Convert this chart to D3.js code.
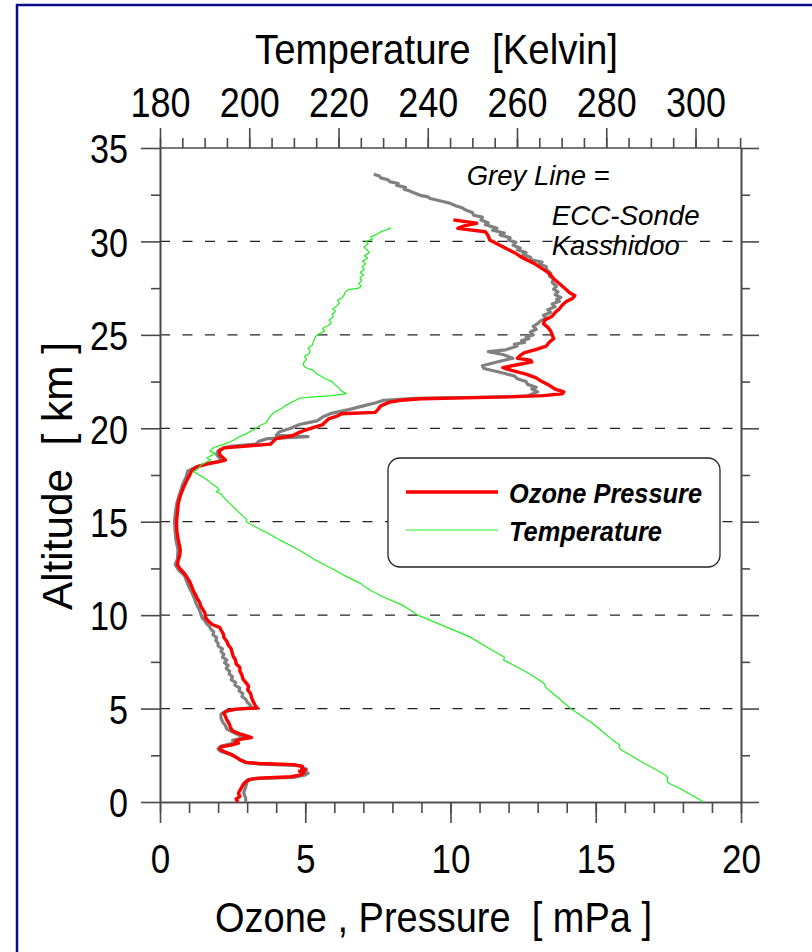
<!DOCTYPE html>
<html>
<head>
<meta charset="utf-8">
<script src="https://cdn.jsdelivr.net/npm/d3@7"></script>
<style>
  html,body{margin:0;padding:0;background:#fff;}
  svg{display:block;}
  text{white-space:pre;}
</style>
</head>
<body>
<div id="chart"></div>
<script>
// ---------------- DATA ----------------
// Ozone partial pressure profile (red)  [altitude km, mPa]
const ozoneProfile = [
[0.0,2.68],[0.15,2.62],[0.3,2.75],[0.45,2.7],[0.6,2.74],[0.75,2.8],[0.9,2.85],[1.05,2.93],[1.2,3.05],[1.28,3.4],[1.35,4.5],[1.45,4.85],[1.55,4.95],[1.65,4.8],[1.72,5.0],[1.8,4.88],[1.9,4.9],[2.0,4.6],[2.06,3.4],[2.12,2.95],[2.25,2.75],[2.4,2.62],[2.55,2.45],[2.7,2.2],[2.82,2.05],[2.95,2.1],[3.05,2.45],[3.15,2.7],[3.25,2.6],[3.35,2.75],[3.45,3.15],[3.55,2.95],[3.65,2.75],[3.8,2.5],[4.0,2.42],[4.2,2.38],[4.4,2.3],[4.6,2.25],[4.75,2.2],[4.88,2.3],[4.97,2.6],[5.03,3.35],[5.1,3.3],[5.25,3.25],[5.4,3.2],[5.6,3.15],[5.8,3.12],[6.0,3.02],[6.2,3.05],[6.4,2.95],[6.6,2.85],[6.8,2.82],[7.0,2.75],[7.2,2.75],[7.4,2.62],[7.6,2.6],[7.8,2.52],[8.0,2.48],[8.2,2.45],[8.4,2.35],[8.6,2.3],[8.8,2.2],[9.0,2.18],[9.2,2.1],[9.35,2.05],[9.5,1.8],[9.7,1.65],[9.9,1.56],[10.1,1.55],[10.3,1.48],[10.5,1.4],[10.7,1.36],[10.9,1.28],[11.1,1.22],[11.3,1.15],[11.5,1.1],[11.7,1.05],[11.9,0.98],[12.1,0.9],[12.3,0.8],[12.5,0.68],[12.7,0.6],[12.9,0.62],[13.2,0.68],[13.5,0.7],[13.8,0.66],[14.1,0.62],[14.5,0.58],[15.0,0.57],[15.5,0.6],[16.0,0.63],[16.4,0.7],[16.8,0.8],[17.2,0.92],[17.5,1.02],[17.75,1.1],[17.95,1.28],[18.1,1.65],[18.2,2.0],[18.3,2.25],[18.45,2.15],[18.6,2.05],[18.8,2.05],[18.95,2.2],[19.05,3.0],[19.15,3.8],[19.3,3.9],[19.45,4.0],[19.6,4.55],[19.75,4.75],[19.9,5.0],[20.05,5.3],[20.2,5.6],[20.35,5.7],[20.5,5.8],[20.65,6.1],[20.78,6.25],[20.85,7.4],[21.0,7.5],[21.2,7.6],[21.4,7.9],[21.5,8.3],[21.58,9.0],[21.63,10.5],[21.68,12.0],[21.75,13.2],[21.85,13.85],[21.95,13.9],[22.1,13.6],[22.3,13.4],[22.5,13.15],[22.7,12.95],[22.9,12.6],[23.1,12.1],[23.25,11.8],[23.4,12.3],[23.55,12.8],[23.65,12.75],[23.75,12.3],[23.9,12.4],[24.05,12.55],[24.2,12.9],[24.4,13.3],[24.6,13.4],[24.8,13.55],[25.0,13.5],[25.2,13.45],[25.4,13.35],[25.6,13.2],[25.8,13.25],[26.0,13.5],[26.2,13.6],[26.4,13.75],[26.6,13.85],[26.8,14.0],[26.95,14.2],[27.1,14.28],[27.25,14.1],[27.4,14.0],[27.6,13.85],[27.8,13.7],[28.0,13.55],[28.2,13.45],[28.4,13.3],[28.6,13.1],[28.8,12.9],[29.0,12.65],[29.2,12.4],[29.4,12.2],[29.6,11.95],[29.8,11.7],[30.08,11.35],[30.3,11.3],[30.52,11.2],[30.7,10.25],[30.85,10.5],[30.97,10.9],[31.15,10.1]
];
// ECC-Sonde profile (grey)  [altitude km, mPa]
const sondeProfile = [
[0.0,2.95],[0.2,2.95],[0.5,2.88],[0.8,2.95],[1.1,3.0],[1.25,3.2],[1.32,4.6],[1.45,5.0],[1.55,5.1],[1.65,4.85],[1.75,5.05],[1.85,4.9],[1.95,4.85],[2.03,3.5],[2.1,3.0],[2.25,2.8],[2.4,2.6],[2.55,2.4],[2.7,2.1],[2.85,2.0],[3.0,2.1],[3.1,2.4],[3.2,2.6],[3.3,2.5],[3.45,2.9],[3.55,2.75],[3.7,2.55],[3.9,2.3],[4.1,2.25],[4.3,2.15],[4.5,2.1],[4.7,2.1],[4.85,2.25],[4.95,2.6],[5.05,3.15],[5.2,3.1],[5.35,3.0],[5.5,2.95],[5.65,2.82],[5.8,2.85],[5.95,2.72],[6.1,2.75],[6.25,2.58],[6.4,2.6],[6.55,2.45],[6.7,2.5],[6.85,2.38],[7.0,2.4],[7.15,2.28],[7.3,2.35],[7.45,2.22],[7.6,2.3],[7.75,2.15],[7.9,2.2],[8.05,2.1],[8.2,2.15],[8.35,2.0],[8.5,2.0],[8.65,1.92],[8.8,1.95],[8.95,1.82],[9.1,1.85],[9.25,1.75],[9.4,1.7],[9.55,1.6],[9.7,1.55],[9.85,1.45],[10.0,1.42],[10.3,1.35],[10.6,1.25],[10.9,1.18],[11.2,1.1],[11.5,1.0],[11.8,0.92],[12.1,0.85],[12.4,0.65],[12.7,0.52],[13.0,0.6],[13.5,0.62],[14.0,0.55],[14.5,0.52],[15.0,0.5],[15.5,0.53],[16.0,0.58],[16.5,0.68],[17.0,0.78],[17.4,0.9],[17.7,0.95],[17.9,1.2],[18.1,1.6],[18.25,2.1],[18.4,2.05],[18.6,1.95],[18.8,2.0],[18.95,2.2],[19.05,2.5],[19.15,3.3],[19.3,3.4],[19.45,3.7],[19.55,5.1],[19.62,4.0],[19.8,4.1],[20.0,4.5],[20.2,4.8],[20.4,5.4],[20.6,5.6],[20.8,5.9],[21.0,6.5],[21.2,7.0],[21.35,7.4],[21.5,7.7],[21.6,8.8],[21.66,11.0],[21.72,12.6],[21.8,12.75],[21.95,13.0],[22.1,12.8],[22.2,12.95],[22.35,12.65],[22.5,12.6],[22.65,12.3],[22.8,12.2],[23.0,11.7],[23.2,11.15],[23.35,11.1],[23.55,11.6],[23.75,12.15],[23.95,11.8],[24.1,11.3],[24.2,11.9],[24.4,12.3],[24.5,12.2],[24.6,12.55],[24.7,12.45],[24.8,12.7],[24.9,12.6],[25.0,12.85],[25.15,12.75],[25.3,12.95],[25.45,12.85],[25.6,13.0],[25.75,13.1],[25.9,13.3],[26.05,13.2],[26.2,13.45],[26.35,13.35],[26.5,13.6],[26.65,13.5],[26.8,13.75],[26.9,13.65],[27.0,13.8],[27.15,13.6],[27.3,13.7],[27.45,13.55],[27.6,13.65],[27.8,13.5],[28.0,13.55],[28.15,13.4],[28.3,13.45],[28.5,13.3],[28.65,13.3],[28.8,13.05],[28.9,13.15],[29.0,12.8],[29.15,12.75],[29.3,12.5],[29.4,12.6],[29.55,12.3],[29.65,12.4],[29.8,12.15],[29.95,12.25],[30.08,12.0],[30.2,12.05],[30.35,11.7],[30.45,11.85],[30.6,11.45],[30.7,11.6],[30.9,11.2],[31.0,11.3],[31.15,11.05],[31.3,11.1],[31.4,10.8],[31.55,10.75],[31.7,10.5],[31.8,10.4],[31.9,10.2],[32.05,9.97],[32.15,9.7],[32.3,9.3],[32.4,9.2],[32.45,9.0],[32.6,8.74],[32.7,8.6],[32.8,8.4],[32.9,8.45],[33.0,8.15],[33.1,8.2],[33.2,7.9],[33.3,7.85],[33.4,7.6],[33.5,7.55],[33.6,7.36]
];
// Temperature profile (green)  [altitude km, Kelvin]
const temperatureProfile = [
[0.0,301.8],[0.25,300.0],[0.5,298.2],[0.75,296.3],[1.0,294.0],[1.15,293.6],[1.3,293.8],[1.45,293.2],[1.75,291.0],[2.07,288.5],[2.45,285.8],[2.78,283.4],[2.9,282.9],[3.05,283.0],[3.3,281.5],[3.8,279.0],[4.21,276.9],[4.6,274.5],[5.0,272.0],[5.46,269.8],[5.9,267.6],[6.15,266.4],[6.3,266.2],[6.4,265.8],[6.88,262.7],[7.2,260.2],[7.5,257.8],[7.6,257.0],[7.75,257.2],[8.22,253.8],[8.85,249.3],[9.4,243.8],[10.0,237.8],[10.3,235.9],[10.55,234.2],[11.0,229.8],[11.35,227.0],[11.7,224.9],[12.1,221.5],[12.5,218.5],[12.95,214.8],[13.3,212.5],[13.66,209.8],[14.0,207.0],[14.38,204.2],[14.7,201.5],[14.9,200.0],[15.0,199.3],[15.1,199.5],[15.5,197.7],[15.98,195.6],[16.3,194.3],[16.5,193.6],[16.6,192.6],[16.7,193.3],[16.85,192.8],[17.0,191.8],[17.23,190.6],[17.5,188.8],[17.68,187.5],[17.85,188.6],[18.03,189.2],[18.2,190.4],[18.3,191.3],[18.42,190.5],[18.55,191.6],[18.66,192.4],[18.78,191.2],[18.9,191.7],[19.0,192.3],[19.1,193.8],[19.25,195.5],[19.37,196.6],[19.55,197.7],[19.7,199.3],[19.85,200.4],[20.0,201.6],[20.15,202.4],[20.3,203.8],[20.45,204.1],[20.6,204.6],[20.75,205.1],[20.9,205.9],[21.05,207.2],[21.2,208.0],[21.35,209.2],[21.5,210.4],[21.62,211.3],[21.68,214.5],[21.75,218.5],[21.85,221.8],[21.95,221.0],[22.05,220.4],[22.2,220.0],[22.35,219.1],[22.5,218.6],[22.65,217.0],[22.8,216.0],[22.95,214.9],[23.1,214.4],[23.25,212.6],[23.4,212.1],[23.55,212.3],[23.7,212.8],[23.85,212.4],[24.0,213.5],[24.15,213.6],[24.3,213.2],[24.45,214.1],[24.6,214.3],[24.75,214.6],[24.9,214.8],[25.05,215.6],[25.2,216.9],[25.35,216.4],[25.5,217.8],[25.65,218.4],[25.8,217.9],[25.95,218.8],[26.1,218.6],[26.25,219.3],[26.4,218.7],[26.55,219.6],[26.7,220.2],[26.85,219.8],[27.0,220.9],[27.15,221.3],[27.3,221.5],[27.42,222.2],[27.5,224.5],[27.6,225.1],[27.75,224.6],[27.9,225.2],[28.05,224.8],[28.2,225.6],[28.35,224.9],[28.5,225.8],[28.65,225.3],[28.8,226.1],[28.95,225.4],[29.1,226.5],[29.25,225.8],[29.4,226.9],[29.55,226.4],[29.7,225.7],[29.85,226.6],[30.0,226.2],[30.12,227.6],[30.25,227.2],[30.38,228.6],[30.5,229.4],[30.6,230.4],[30.68,231.6],[30.75,231.2]
];
const ozoneTicks = [0,5,10,15,20];
const ozoneMinorTicks = d3.range(0,21,1);
const tempTicks = [180,200,220,240,260,280,300];
const tempMinorTicks = d3.range(180,311,5);
const altTicks = [0,5,10,15,20,25,30,35];
const altMinorTicks = [2.5,7.5,12.5,17.5,22.5,27.5,32.5];
const gridAlts = [5,10,15,20,25,30];
const titleTop = "Temperature\u00a0\u00a0[Kelvin]";
const titleBottom = "Ozone , Pressure\u00a0\u00a0[ mPa ]";
const titleLeft = "Altitude\u00a0\u00a0[ km ]";
const noteLines = ["Grey Line =","ECC-Sonde","Kasshidoo"];
const legendItems = ["Ozone Pressure","Temperature"];

// ---------------- LAYOUT ----------------
const W = 812, H = 952;
const FONT = "'Liberation Sans Narrow','Arial Narrow','Liberation Sans',Arial,sans-serif";
const frame = {left:160, right:741, top:148, bottom:802};
const axisColor = "#4a4a4a";

const svg = d3.select("#chart").append("svg")
  .attr("width", W).attr("height", H)
  .attr("font-family", FONT);
svg.append("rect").attr("width", W).attr("height", H).attr("fill", "#fff");

const xOz = d3.scaleLinear().domain([0,20]).range([frame.left, frame.right]);
const xT  = d3.scaleLinear().domain([180,300]).range([frame.left, 695.5]);
const y   = d3.scaleLinear().domain([0,35]).range([frame.bottom, frame.top]);

function fitText(sel, len){
  sel.attr("textLength", len).attr("lengthAdjust","spacingAndGlyphs");
  return sel;
}

// dashed gridlines
svg.append("g").selectAll("line").data(gridAlts).join("line")
  .attr("x1", xOz(0)).attr("x2", xOz(20))
  .attr("y1", d=>y(d)).attr("y2", d=>y(d))
  .attr("stroke","#222").attr("stroke-width",1.3)
  .attr("stroke-dasharray","10,12.5");

function styleAxis(g){
  g.selectAll("path,line").attr("stroke", axisColor).attr("stroke-width",1.6);
}

// bottom axis (ozone)
const gB = svg.append("g").attr("transform",`translate(0,${frame.bottom})`)
  .call(d3.axisBottom(xOz).tickValues(ozoneMinorTicks).tickSize(11).tickSizeOuter(0).tickFormat(""));
styleAxis(gB);
const gB2 = svg.append("g").attr("transform",`translate(0,${frame.bottom})`)
  .call(d3.axisBottom(xOz).tickValues(ozoneTicks).tickSize(21).tickSizeOuter(0));
styleAxis(gB2);
gB2.selectAll("text").attr("y",71).attr("dy",0).attr("font-size",41).attr("fill","#000")
  .attr("font-family",FONT).each(function(d){ fitText(d3.select(this), 19.5*String(d).length); });

// top axis (temperature)
const gT = svg.append("g").attr("transform",`translate(0,${frame.top})`)
  .call(d3.axisTop(xT).tickValues(tempMinorTicks).tickSize(10).tickSizeOuter(0).tickFormat(""));
styleAxis(gT);
gT.select("path.domain").remove();
const gT2 = svg.append("g").attr("transform",`translate(0,${frame.top})`)
  .call(d3.axisTop(xT).tickValues(tempTicks).tickSize(20).tickSizeOuter(0));
styleAxis(gT2);
gT2.select("path.domain").remove();
gT2.selectAll("text").attr("y",-31).attr("dy",0).attr("font-size",42).attr("fill","#000")
  .attr("font-family",FONT).each(function(d){ fitText(d3.select(this), 20*String(d).length); });
// top frame line
svg.append("line").attr("x1",xOz(0)).attr("x2",xOz(20)).attr("y1",frame.top).attr("y2",frame.top)
  .attr("stroke",axisColor).attr("stroke-width",1.6);

// left axis (altitude)
const gL = svg.append("g").attr("transform",`translate(${frame.left},0)`)
  .call(d3.axisLeft(y).tickValues(altMinorTicks).tickSize(9).tickSizeOuter(0).tickFormat(""));
styleAxis(gL);
const gL2 = svg.append("g").attr("transform",`translate(${frame.left},0)`)
  .call(d3.axisLeft(y).tickValues(altTicks).tickSize(19).tickSizeOuter(0));
styleAxis(gL2);
gL2.selectAll("text").attr("x",-32).attr("dy","0.36em").attr("font-size",41).attr("fill","#000")
  .attr("font-family",FONT).each(function(d){ fitText(d3.select(this), 19*String(d).length); });

// right axis
const gR = svg.append("g").attr("transform",`translate(${frame.right},0)`)
  .call(d3.axisRight(y).tickValues(altMinorTicks).tickSize(9).tickSizeOuter(0).tickFormat(""));
styleAxis(gR);
const gR2 = svg.append("g").attr("transform",`translate(${frame.right},0)`)
  .call(d3.axisRight(y).tickValues(altTicks).tickSize(18).tickSizeOuter(0).tickFormat(""));
styleAxis(gR2);

// axis titles
fitText(svg.append("text").attr("x",436.5-181.5).attr("y",64).attr("font-size",43)
  .text(titleTop), 363);
fitText(svg.append("text").attr("x",433.5-218.5).attr("y",932).attr("font-size",42)
  .text(titleBottom), 437);
fitText(svg.append("text").attr("transform","translate(72,476) rotate(-90)")
  .attr("x",-134).attr("y",0).attr("font-size",43).text(titleLeft), 268);

// ---------------- LINES ----------------
const ozLine = d3.line().x(d=>xOz(d[1])).y(d=>y(d[0]));
const tLine  = d3.line().x(d=>xT(d[1])).y(d=>y(d[0]));

svg.append("path").datum(sondeProfile).attr("d",ozLine)
  .attr("fill","none").attr("stroke","#808080").attr("stroke-width",3.2)
  .attr("stroke-linejoin","round");
svg.append("path").datum(ozoneProfile).attr("d",ozLine)
  .attr("fill","none").attr("stroke","#ff0000").attr("stroke-width",3.4)
  .attr("stroke-linejoin","round");
svg.append("path").datum(temperatureProfile).attr("d",tLine)
  .attr("fill","none").attr("stroke","#22ee22").attr("stroke-width",1.2)
  .attr("stroke-linejoin","round");

// ---------------- ANNOTATION ----------------
const note = svg.append("g").attr("font-style","italic").attr("font-size",28).attr("fill","#000");
fitText(note.append("text").attr("x",466.7).attr("y",185).text(noteLines[0]),143);
fitText(note.append("text").attr("x",551.7).attr("y",225).text(noteLines[1]),148);
fitText(note.append("text").attr("x",551.7).attr("y",255).text(noteLines[2]),128);

// ---------------- LEGEND ----------------
const lg = svg.append("g");
lg.append("rect").attr("x",388).attr("y",458).attr("width",332).attr("height",109)
  .attr("rx",12).attr("ry",12).attr("fill","#fff").attr("stroke","#222").attr("stroke-width",1.3);
lg.append("line").attr("x1",406).attr("x2",498).attr("y1",492).attr("y2",492)
  .attr("stroke","#ff0000").attr("stroke-width",3.4);
lg.append("line").attr("x1",406).attr("x2",498).attr("y1",530).attr("y2",530)
  .attr("stroke","#22ee22").attr("stroke-width",1.2);
fitText(lg.append("text").attr("x",509).attr("y",503).attr("font-size",28)
  .attr("font-weight","bold").attr("font-style","italic").text(legendItems[0]),193);
fitText(lg.append("text").attr("x",509).attr("y",541).attr("font-size",28)
  .attr("font-weight","bold").attr("font-style","italic").text(legendItems[1]),153);

// outer border
svg.append("rect").attr("x",17).attr("y",5).attr("width",W).attr("height",H)
  .attr("fill","none").attr("stroke","#0b0b8a").attr("stroke-width",2.5);
</script>
</body>
</html>
